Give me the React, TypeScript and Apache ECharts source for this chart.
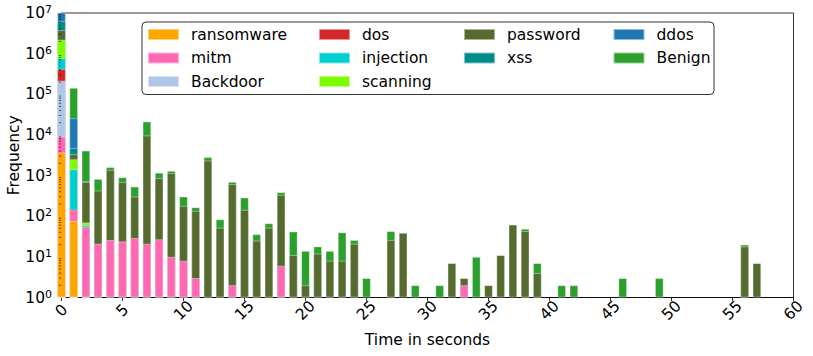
import React, { useEffect, useRef } from "react";
import * as echarts from "echarts";

const FONT = "DejaVu Sans";
const NBINS = 58;

// time bins (seconds)
const seconds: number[] = Array.from({ length: NBINS }, (_, i) => i);
// hidden band axis positions 0..60 (one per second)
const binLabels: string[] = Array.from({ length: 61 }, (_, i) => String(i));

// counts per bin (0 = empty); short arrays are padded with empty bins
const ransomware = [3700, 76];
const mitm = [5400, 63, 55, 21, 26, 24, 29, 21, 27, 10, 8, 3, 0, 0, 2, 0, 0, 0, 6, 0,
  0, 0, 0, 0, 0, 0, 0, 0, 0, 0, 0, 0, 0, 2];
const backdoor = [206000];
const dos = [203000, 8];
const injection = [362000, 1280, 5];
const scanning = [1420000, 1080, 10];
const password = [
  1600000, 830, 620, 406, 1350, 665, 275, 9640, 835, 1135,
  171, 132, 2340, 52, 610, 143, 25, 52, 330, 11,
  2, 12, 8, 8, 21, 0, 0, 26, 39, 0,
  0, 0, 7, 1, 0, 2, 11, 62, 43, 4,
  0, 0, 0, 0, 0, 0, 0, 0, 0, 0,
  0, 0, 0, 0, 0, 0, 18, 7,
];
const xss = [2500000, 1430];
const ddos = [8000000, 21000, 35];
const benign = [
  0, 118000, 3400, 400, 230, 220, 230, 11700, 310, 160,
  125, 31, 490, 32, 88, 145, 11, 15, 55, 31,
  12, 6, 6, 32, 5, 3, 0, 17, 0, 2,
  0, 2, 0, 0, 10, 0, 0, 0, 6, 3,
  0, 2, 2, 0, 0, 0, 3, 0, 0, 3,
  0, 0, 0, 0, 0, 0, 2, 0,
];

const seriesNames = ["ransomware", "mitm", "Backdoor", "dos", "injection", "scanning", "password", "xss", "ddos", "Benign"];
const seriesValues = [ransomware, mitm, backdoor, dos, injection, scanning, password, xss, ddos, benign];
const seriesColors = ["#FFA500", "#FF69B4", "#AEC7E8", "#D62728", "#00CED1", "#7CFC00", "#556B2F", "#008B8B", "#1F77B4", "#2CA02C"];

const legendColumns = [
  ["ransomware", "mitm", "Backdoor"],
  ["dos", "injection", "scanning"],
  ["password", "xss"],
  ["ddos", "Benign"],
];
const legendLefts = [147, 318, 463, 612.5];

// log-axis minor tick positions (2..9 x 10^k)
const minorTicks: number[] = [];
for (let k = 0; k < 7; k++) for (let m = 2; m <= 9; m++) minorTicks.push(m * Math.pow(10, k));

export default function App() {
  const ref = useRef<HTMLDivElement>(null);
  useEffect(() => {
    if (!ref.current) return;
    const chart = echarts.init(ref.current, null, { renderer: "svg" });
    const fs = 15.5;

    // stacked tops (cumulative sums) per series, bottom to top
    const running = seconds.map(() => 0);
    const tops = seriesValues.map((vals) =>
      seconds.map((s) => {
        const v = vals[s] || 0;
        running[s] += v;
        return v > 0 ? running[s] : "-";
      })
    );

    const barSeries = seriesNames.map((name, i) => ({
      name, type: "bar", xAxisIndex: 1, barWidth: 8.6, barGap: "-100%", clip: true,
      itemStyle: { color: seriesColors[i], borderColor: "rgba(255,255,255,0.5)", borderWidth: 0.8 },
      data: tops[i],
    }));
    // draw the tallest (top of stack) first so lower segments sit over it
    const orderedBars = barSeries.slice().reverse();

    const option: any = {
      animation: false,
      backgroundColor: "#fff",
      grid: {
        left: 61.5, right: 19.5, top: 13, bottom: 58.5, outerBoundsMode: "none", containLabel: false,
        show: true, borderColor: "#000", borderWidth: 0.8, backgroundColor: "transparent",
      },
      xAxis: [
        {
          type: "value", min: 0, max: 60, interval: 5,
          name: "Time in seconds", nameLocation: "middle", nameGap: 34,
          nameTextStyle: { fontSize: fs, fontFamily: FONT, color: "#000" },
          axisLine: { lineStyle: { color: "#000", width: 0.8 } },
          axisTick: { length: 3.5, lineStyle: { color: "#000", width: 0.8 } },
          axisLabel: { fontSize: fs, fontFamily: FONT, color: "#000", rotate: 45, align: "center", verticalAlign: "middle", margin: 13 },
          splitLine: { show: false },
        },
        {
          type: "category", data: binLabels, boundaryGap: false, show: false, position: "bottom",
        },
      ],
      yAxis: {
        type: "log", logBase: 10, min: 1, max: 10000000, splitNumber: 7,
        name: "Frequency", nameLocation: "middle", nameGap: 40, nameMoveOverlap: false,
        nameTextStyle: { fontSize: fs, fontFamily: FONT, color: "#000" },
        axisLine: { show: true, lineStyle: { color: "#000", width: 0.8 } },
        axisTick: { show: true, length: 3.5, lineStyle: { color: "#000", width: 0.8 } },
        axisLabel: {
          margin: 9.5,
          formatter: (v: number) => `{b|10}{s|${Math.round(Math.log10(v))}}`,
          rich: {
            b: { fontSize: fs, fontFamily: FONT, color: "#000", lineHeight: 18 },
            s: { fontSize: 11, fontFamily: FONT, color: "#000", lineHeight: 9, verticalAlign: "top" },
          },
        },
        splitLine: { show: false },
      },
      legend: legendColumns.map((names, i) => ({
        data: names, orient: "vertical", left: legendLefts[i], top: 26.5, padding: 0,
        itemWidth: 31, itemHeight: 11, itemGap: 7.5, icon: "rect", z: 20,
        textStyle: { fontSize: fs, fontFamily: FONT, color: "#000", lineHeight: 15, padding: [0, 0, 0, 7] },
      })),
      graphic: [
        { type: "rect", left: 141.5, top: 21.5, shape: { width: 572, height: 72.5, r: 4 }, style: { fill: "#fff", stroke: "#333", lineWidth: 1 }, z: 10, silent: true },
      ],
      series: [
        ...orderedBars,
        {
          type: "custom", name: "minorTicks", silent: true, clip: false, z: 10, xAxisIndex: 0,
          data: minorTicks.map((v) => [0, v]),
          renderItem: (params: any, api: any) => {
            const p = api.coord([0, api.value(1)]);
            return { type: "line", shape: { x1: p[0] - 2.4, y1: p[1], x2: p[0] - 0.4, y2: p[1] }, style: { stroke: "#000", lineWidth: 0.6 } };
          },
        },
      ],
    };
    chart.setOption(option);
    return () => chart.dispose();
  }, []);
  return <div ref={ref} style={{ position: "fixed", left: 0, top: 0, width: 813, height: 356 }} />;
}
